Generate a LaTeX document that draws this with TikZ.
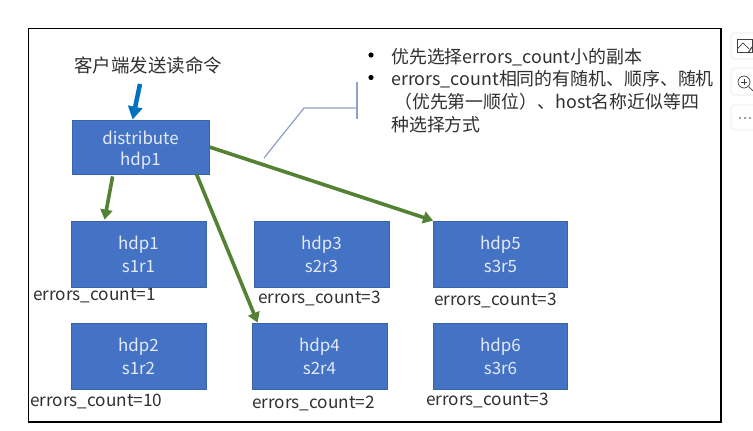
\documentclass[tikz,border=0pt]{standalone}
\usepackage{fontspec}
\setmainfont{Noto Sans CJK SC}
\usetikzlibrary{arrows.meta,calc}
\definecolor{boxfill}{HTML}{4472C4}
\definecolor{boxline}{HTML}{3A62A8}
\definecolor{greenarrow}{HTML}{548235}
\definecolor{bluearrow}{HTML}{0070C0}
\definecolor{callout}{HTML}{8FA2C4}
\definecolor{textgrey}{HTML}{303030}
\definecolor{boxtext}{HTML}{E4EBF7}
\tikzset{
 srvbox/.style={draw=boxline,fill=boxfill,line width=0.8pt,minimum width=135pt,minimum height=66pt,inner sep=0pt,align=center,text=boxtext,font=\fontsize{16.9}{23}\selectfont},
 countlabel/.style={anchor=west,inner sep=0pt,text=textgrey,font=\fontsize{17.2}{20}\selectfont},
 greenline/.style={draw=greenarrow,line width=3.6pt,-{Triangle[length=10pt,width=12pt]}},
 blueline/.style={draw=bluearrow,line width=4.5pt,-{Triangle[length=13pt,width=14pt]}},
 calloutline/.style={draw=callout,line width=1.2pt},
 toolbtn/.style={draw=black!8,fill=white,rounded corners=4pt,line width=0.8pt},
 toolicon/.style={draw=black!75,line width=0.7pt},
}
\begin{document}
\begin{tikzpicture}[x=1pt,y=-1pt]
\useasboundingbox (0,0) rectangle (753,431);
\fill[white] (0,0) rectangle (753,431);
\draw[black,line width=1.1pt] (28.5,28.5) rectangle (721,422);
\node[srvbox,minimum width=137pt,minimum height=54pt] (dist) at (140.5,147) {\rule{0pt}{20pt}distribute\\[-1.5pt]hdp1};
\node[srvbox] (h1) at (138.5,254) {hdp1\\s1r1};
\node[srvbox] (h3) at (321.5,254) {hdp3\\s2r3};
\node[srvbox,minimum width=134pt] (h5) at (500.5,254) {hdp5\\s3r5};
\node[srvbox] (h2) at (138.5,356) {hdp2\\s1r2};
\node[srvbox] (h4) at (319.5,356) {hdp4\\s2r4};
\node[srvbox,minimum width=134pt] (h6) at (500.5,356) {hdp6\\s3r6};
\node[anchor=west,inner sep=0pt,text=textgrey,font=\fontsize{18.5}{22}\selectfont] (client) at (74,65) {客户端发送读命令};
\coordinate (clientfoot) at (140,84);
\draw[blueline] (clientfoot) -- ($(dist.north west)+(61,0)$);
\draw[greenline] ($(dist.south west)+(41,2)$) -- ($(h1.north west)+(34,-1)$);
\draw[greenline] ($(dist.south west)+(125,0)$) -- ($(h4.north west)+(6,0)$);
\draw[greenline] (dist.east) -- (h5.north west);
\node[countlabel] (c1) at (33,296) {errors\_count=1};
\node[countlabel] (c3) at (258,298) {errors\_count=3};
\node[countlabel] (c5) at (434,300) {errors\_count=3};
\node[countlabel] (c2) at (30,401) {errors\_count=10};
\node[countlabel] (c4) at (252,403) {errors\_count=2};
\node[countlabel] (c6) at (426,400) {errors\_count=3};
\coordinate (ctail) at (264,158);
\coordinate (cknee) at (304,108);
\coordinate (cbar) at (357,108);
\draw[calloutline] (ctail) -- (cknee) -- (cbar);
\draw[calloutline] ($(cbar)+(0,-26)$) -- ($(cbar)+(0,11)$);
\fill[black] (371,55) circle (2.6pt) (371,77.5) circle (2.6pt);
\begin{scope}[every node/.style={anchor=west,inner sep=0pt,text=textgrey,font=\fontsize{17.9}{22}\selectfont}]
\node (t1) at (391,57) {优先选择errors\_count小的副本};
\node (t2) at (391,79.5) {errors\_count相同的有随机、顺序、随机};
\node (t3) at (394,102) {（优先第一顺位）、host名称近似等四};
\node (t4) at (391,125) {种选择方式};
\end{scope}
\draw[toolbtn] (731,33) rectangle (762,59);
\draw[toolbtn] (731,68) rectangle (762,95);
\draw[toolbtn] (731,105) rectangle (762,130);
\draw[toolicon] (737,39) rectangle (752,52);
\draw[toolicon] (737,49) -- (743,43) -- (749,49);
\draw[toolicon,line width=1pt] (748,53) -- (752,47);
\draw[toolicon] (744,82) circle (6pt);
\draw[toolicon] (741,82) -- (747,82) (744,79) -- (744,85);
\draw[toolicon] (748.5,86.5) -- (753,91);
\fill[black!75] (740,118) circle (0.9pt) (745,118) circle (0.9pt) (750,118) circle (0.9pt);
\end{tikzpicture}
\end{document}
